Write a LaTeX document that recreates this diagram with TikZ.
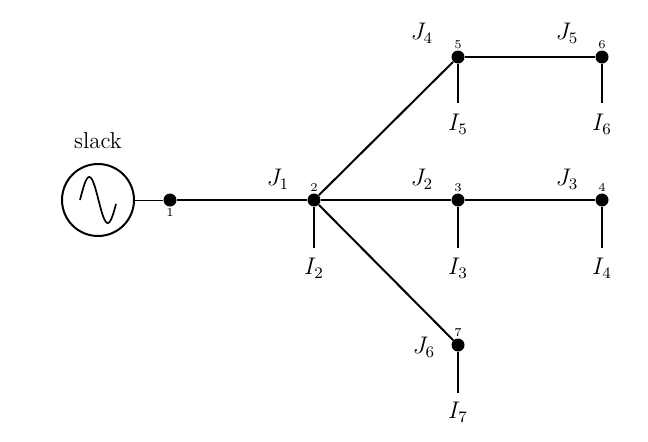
\documentclass[tikz,border=0pt]{standalone}
\begin{document}
\begin{tikzpicture}[x=0.5pt,y=-0.5pt,
  bus/.style={circle,fill=black,inner sep=0pt,minimum size=6.5pt},
  num/.style={font=\fontsize{6}{7}\selectfont,inner sep=0.6pt},
  wire/.style={line width=1pt},
  thinwire/.style={line width=0.5pt},
  txt/.style={inner sep=0pt,font=\fontsize{11.5}{13}\selectfont}]
\useasboundingbox (0,0) rectangle (648,441);
\fill[white] (0,0) rectangle (648,441);
% source
\node[circle,draw,line width=1pt,minimum size=36pt,inner sep=0pt] (src) at (98,200) {};
\node[txt] (slack) at (98,141) {slack};
\draw[line width=0.85pt] plot[domain=80:116,samples=60,smooth] (\x,{200-23*sin((\x-80)*360/37)});
% buses
\node[bus,label={[num]below:1}] (n1) at (170,200) {};
\node[bus,label={[num]above:2}] (n2) at (314,200) {};
\node[bus,label={[num]above:3}] (n3) at (458,200) {};
\node[bus,label={[num]above:4}] (n4) at (602,200) {};
\node[bus,label={[num]above:5}] (n5) at (458,57) {};
\node[bus,label={[num]above:6}] (n6) at (602,57) {};
\node[bus,label={[num]above:7}] (n7) at (458,345) {};
% lines
\draw[thinwire] (src) -- (n1);
\draw[wire] (n1) -- (n2);
\draw[wire] (n2) -- (n3);
\draw[wire] (n3) -- (n4);
\draw[wire] (n2) -- (n5);
\draw[wire] (n5) -- (n6);
\draw[wire] (n2) -- (n7);
% line labels
\node[txt] (j1) at (278,179) {$J_1$};
\node[txt] (j2) at (422,179) {$J_2$};
\node[txt] (j3) at (567,179) {$J_3$};
\node[txt] (j4) at (422,33) {$J_4$};
\node[txt] (j5) at (567,33) {$J_5$};
\node[txt] (j6) at (424,347) {$J_6$};
% loads
\coordinate (e2) at (314,248);
\coordinate (e3) at (458,248);
\coordinate (e4) at (602,248);
\coordinate (e5) at (458,103);
\coordinate (e6) at (602,103);
\coordinate (e7) at (458,393);
\draw[wire] (n2) -- (e2);
\draw[wire] (n3) -- (e3);
\draw[wire] (n4) -- (e4);
\draw[wire] (n5) -- (e5);
\draw[wire] (n6) -- (e6);
\draw[wire] (n7) -- (e7);
\node[txt] (i2) at (314,268) {$I_2$};
\node[txt] (i3) at (458,268) {$I_3$};
\node[txt] (i4) at (602,268) {$I_4$};
\node[txt] (i5) at (458,124) {$I_5$};
\node[txt] (i6) at (602,124) {$I_6$};
\node[txt] (i7) at (458,412) {$I_7$};
\end{tikzpicture}
\end{document}
